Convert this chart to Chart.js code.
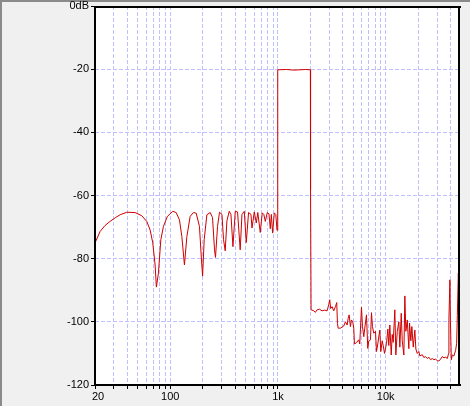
<!DOCTYPE html>
<html><head><meta charset="utf-8">
<script src="https://cdn.jsdelivr.net/npm/chart.js@4/dist/chart.umd.min.js"></script>
<style>html,body{margin:0;padding:0;background:#f0f0f0;overflow:hidden}canvas{display:block}</style>
</head><body>
<canvas id="c" width="470" height="406"></canvas>
<script>
// Frequency (Hz) of each sample
const freqs = [
  20,22.3,24.8,27.6,31,34.2,39.4,47.1,54.4,60.5,65,68.8,72.3,74.3,77.6,81.7,86.4,94.1,
  105.6,113.4,121.7,128.1,135.4,142.6,153,164.3,174,186.7,194.9,199.6,206.5,218.8,234.9,
  246.8,257.6,263,274.8,286.7,301.9,312.4,323.7,335.9,352.9,366,382,401.4,421.5,446,463.2,
  486.5,508,533.4,561.6,574,602.8,629,650,685,715,739,763,796,825,849,868,892,925,955,980,
  990,996,1000,1200,1400,1600,1800,2000,2008,2030,
  2147,2226,2309,2425,2570,2700,2861,2960,3024,3090,3184,3294,3418,3515,3568,3622,3803,
  4082,4234,4391,4486,4583,4712,4814,4950,5057,5134,5358,5628,5750,5964,6093,6265,6400,
  6637,6825,6973,7230,7387,7547,7759,8048,8222,8453,8826,9017,9292,9493,9761,10190,10477,
  10704,10936,11268,11512,11761,12172,12436,12814,13261,13548,13960,14263,14760,15080,
  15406,15874,16427,16674,17145,17516,18049,18677,19081,19664,20343,20784,21883,22646,
  23486,24357,25207,26140,27110,28060,29100,30180,31230,32390,33590,34760,36050,37390,
  38440,38690,39530,39960,40740,41620,43070,44670,45640,46330,47310,47920
];
// Level (dB) of each sample
const levels = [
  -75,-71.4,-69.5,-68.2,-67,-66.1,-65.3,-65.4,-66.4,-68.2,-70.9,-75,-82,-89,-84.6,-74,-69.8,-66.6,
  -65,-65.4,-67.7,-73,-82,-73,-66.6,-65.4,-65.6,-69.8,-80.4,-85.5,-74,-66.1,-65.4,
  -67,-77.2,-79.6,-69.8,-65.3,-66,-74,-77.5,-68,-65,-66,-76.2,-65,-65.2,-77.2,-66,
  -65,-74.9,-65.4,-66,-70.3,-65.2,-68.7,-65.4,-71.7,-65.5,-66,-68.2,-65.4,-65.8,-70.5,-66,-71.9,-65.5,-66,-71,
  -66,-42.6,-20.2,-20.1,-20.3,-20.2,-20.1,-20.2,-58.2,-96.2,
  -96.5,-97,-96.2,-96,-96.5,-96.3,-96.5,-94.6,-93,-95.8,-95.2,-96.5,-95.2,-93.9,-100.5,-102,-102,
  -101.3,-100,-101,-98.9,-97.8,-101.5,-99.4,-100,-102,-107,-106.6,-105.7,-107,-95.4,-101.5,-104.7,-102,
  -97.8,-108.4,-106,-105.7,-97.1,-101.5,-103.6,-103,-109.4,-107,-102.6,-109.4,-106,-107.5,-110,-106.8,-102.3,
  -107.5,-101,-110.5,-104,-106.5,-96.2,-110.5,-103.1,-100,-108,-97.3,-106,-110.5,-91.8,
  -103,-99.4,-108.5,-100.4,-106,-101.5,-108,-102.6,-108.6,-110,-109.4,-110.8,-110.4,-111.3,
  -111,-111.6,-111.2,-112,-111.6,-112,-111.8,-112.3,-112.4,-111.8,-111,-111.4,-111.2,-111.6,
  -110,-99.4,-86.7,-100,-112,-110.5,-110.8,-109,-106.8,-98,-84.6,-88.8
];
const yTickValues = [0,-20,-40,-60,-80,-100,-120];
const xGridValues = [20,30,40,50,60,70,80,90,100,200,300,400,500,600,700,800,900,
  1000,2000,3000,4000,5000,6000,7000,8000,9000,10000,20000,30000,40000];
const xTickLabels = {20:'  20',100:'100',1000:'1k',10000:'10k'};
const yTopLabel = '0dB';

const points = freqs.map((f,i)=>({x:f,y:levels[i]}));

const framePlugin = {
  id:'frame',
  beforeDraw(chart){
    const {ctx, chartArea:a, width, height} = chart;
    ctx.save();
    ctx.fillStyle='#f0f0f0'; ctx.fillRect(0,0,width,height);
    ctx.fillStyle='#ffffff'; ctx.fillRect(a.left,a.top,a.right-a.left,a.bottom-a.top);
    ctx.fillStyle='#8a8a8a'; ctx.fillRect(0,0,width,2); ctx.fillRect(0,0,2,height);
    ctx.restore();
  },
  afterDraw(chart){
    const {ctx, chartArea:a} = chart;
    ctx.save();
    ctx.fillStyle='#000';
    const l=Math.round(a.left)-1, r=Math.round(a.right), t=Math.round(a.top), b=Math.round(a.bottom);
    ctx.fillRect(l,t,r-l+2,2);
    ctx.fillRect(l,b-1,r-l+2,2);
    ctx.fillRect(l,t,2,b-t+1);
    ctx.fillRect(r-1,t,2,b-t+1);
    ctx.restore();
  }
};

const font = {family:'"Liberation Sans", Arial, sans-serif', size:11};

new Chart(document.getElementById('c'), {
  type:'line',
  data:{datasets:[{data:points, borderColor:'#d00000', borderWidth:1, pointRadius:0, tension:0, fill:false}]},
  options:{
    responsive:false, animation:false, devicePixelRatio:1,
    layout:{padding:{left:0,right:11,top:6,bottom:0}},
    plugins:{legend:{display:false}, tooltip:{enabled:false}},
    scales:{
      x:{
        type:'logarithmic', min:20, max:48000, bounds:'data',
        afterBuildTicks(s){ s.ticks = xGridValues.map(v=>({value:v})); },
        afterFit(s){ s.height = 21; s.paddingLeft=0; s.paddingRight=0; },
        ticks:{autoSkip:false, maxRotation:0, minRotation:0, padding:1, color:'#000', font,
          callback:(v)=> (xTickLabels[v] !== undefined ? xTickLabels[v] : '')},
        grid:{color:'rgb(192,192,255)', lineWidth:1, tickLength:4, tickColor:'#000', tickWidth:1},
        border:{display:false, dash:[4,2]}
      },
      y:{
        type:'linear', min:-120, max:0,
        afterBuildTicks(s){ s.ticks = yTickValues.map(v=>({value:v})); },
        afterFit(s){ s.width = 95; s.paddingTop=0; s.paddingBottom=0; },
        ticks:{padding:2, color:'#000', font,
          callback:(v)=> (v===0 ? yTopLabel : String(v))},
        grid:{color:'rgb(192,192,255)', lineWidth:1, tickLength:4, tickColor:'#000', tickWidth:1},
        border:{display:false, dash:[4,2]}
      }
    }
  },
  plugins:[framePlugin]
});
</script>
</body></html>
